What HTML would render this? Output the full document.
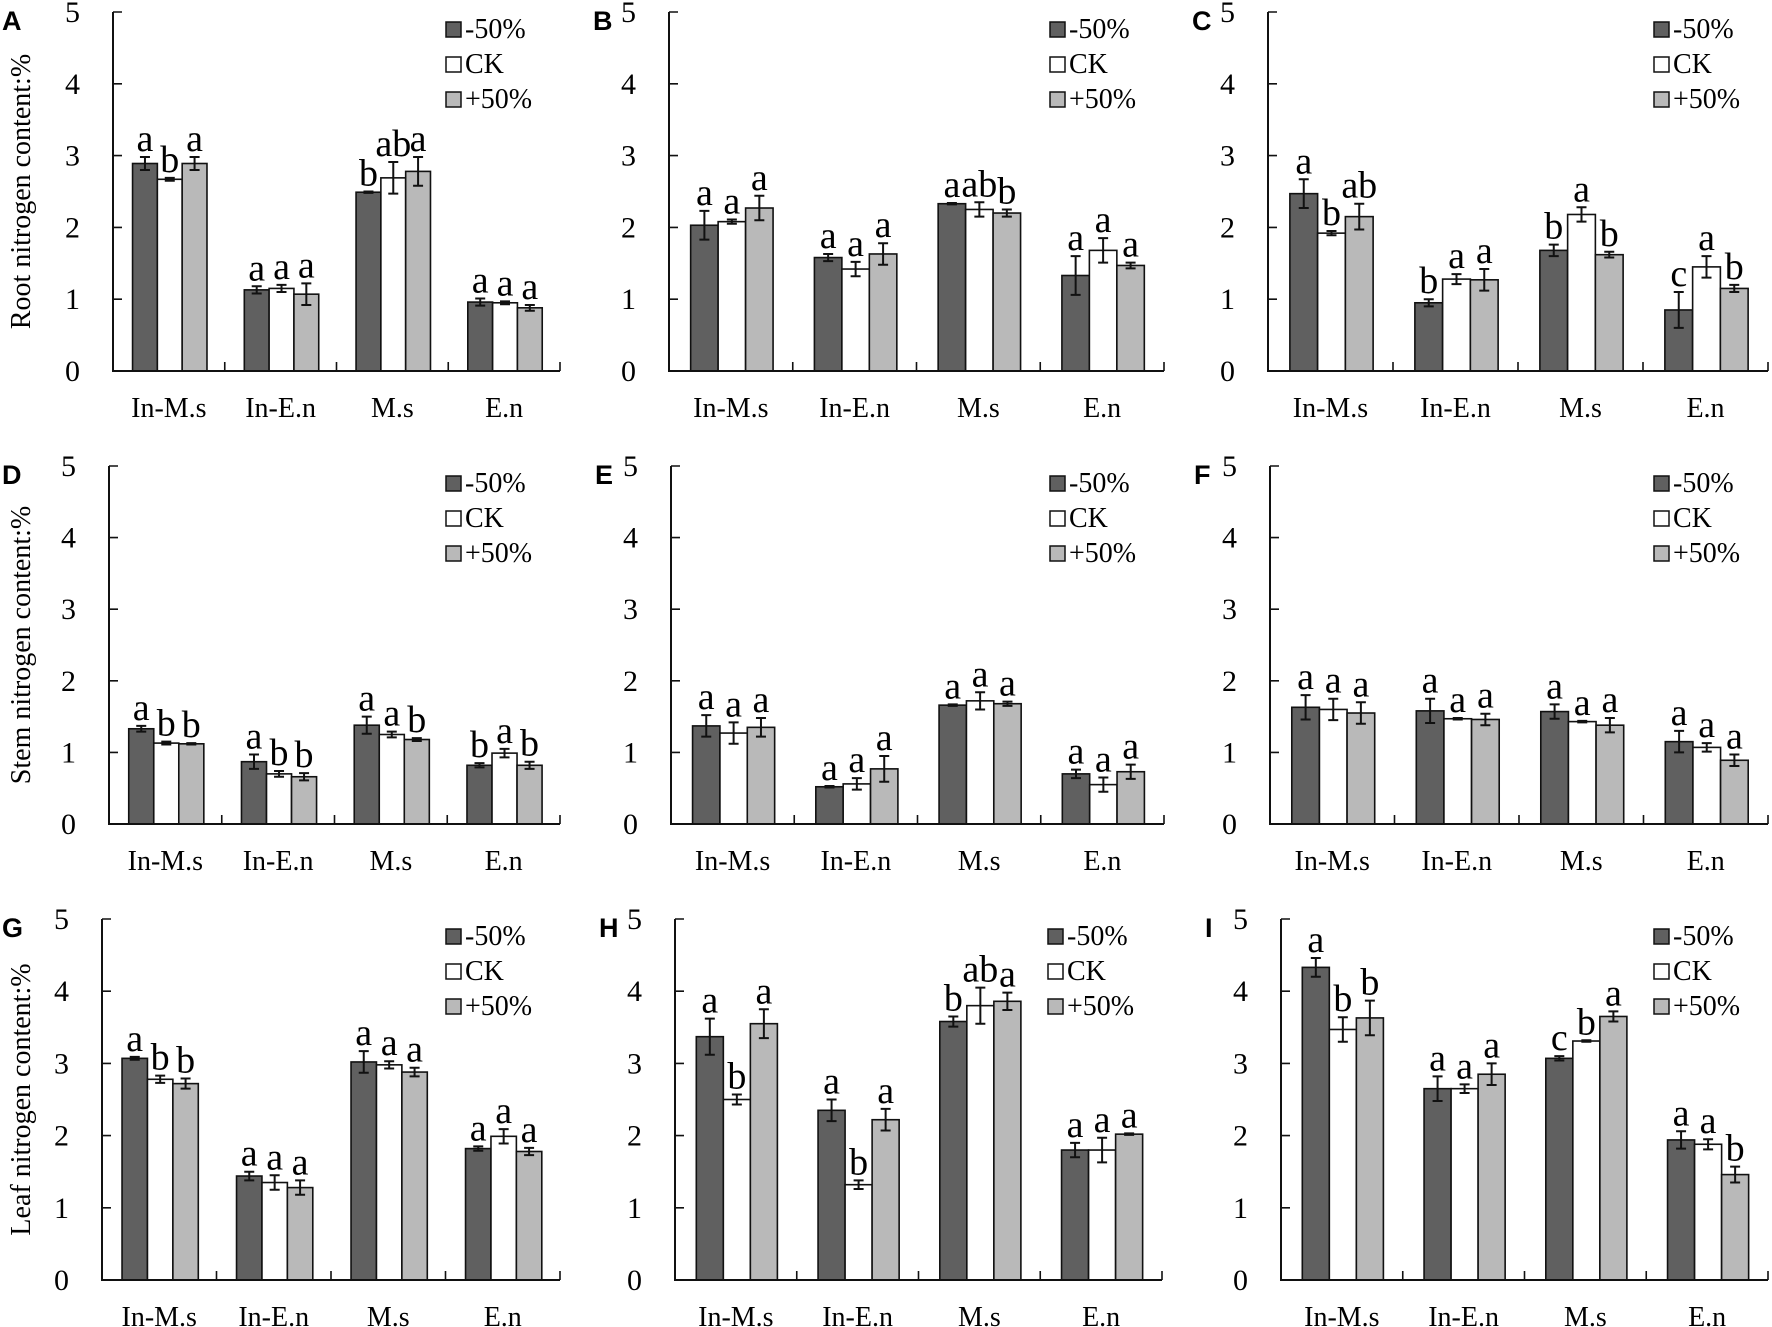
<!DOCTYPE html>
<html><head><meta charset="utf-8"><style>
html,body{margin:0;padding:0;background:#fff;}
svg{display:block;font-family:"Liberation Serif",serif;}
</style></head><body>
<svg id="chart" width="1772" height="1327" viewBox="0 0 1772 1327"></svg>
<script>
const categories = ["In-M.s","In-E.n","M.s","E.n"];
const seriesNames = ["-50%","CK","+50%"];
const yTicks = [0,1,2,3,4,5];
const valuesA = [[2.89,2.67,2.89],[1.13,1.15,1.07],[2.49,2.69,2.78],[0.96,0.95,0.88]];
const errorsA = [[0.09,0.02,0.09],[0.05,0.05,0.15],[0.01,0.22,0.2],[0.05,0.02,0.04]];
const lettersA = [["a","b","a"],["a","a","a"],["b","ab","a"],["a","a","a"]];
const valuesB = [[2.03,2.08,2.27],[1.58,1.42,1.63],[2.33,2.25,2.2],[1.33,1.68,1.47]];
const errorsB = [[0.2,0.03,0.17],[0.05,0.1,0.15],[0.01,0.1,0.05],[0.27,0.17,0.04]];
const lettersB = [["a","a","a"],["a","a","a"],["a","ab","b"],["a","a","a"]];
const valuesC = [[2.47,1.92,2.15],[0.95,1.28,1.27],[1.68,2.18,1.62],[0.85,1.45,1.15]];
const errorsC = [[0.2,0.03,0.18],[0.05,0.07,0.15],[0.08,0.1,0.04],[0.25,0.15,0.05]];
const lettersC = [["a","b","ab"],["b","a","a"],["b","a","b"],["c","a","b"]];
const valuesD = [[1.33,1.13,1.12],[0.87,0.7,0.66],[1.38,1.25,1.18],[0.82,0.99,0.82]];
const errorsD = [[0.04,0.02,0.01],[0.1,0.04,0.05],[0.12,0.04,0.02],[0.03,0.06,0.05]];
const lettersD = [["a","b","b"],["a","b","b"],["a","a","b"],["b","a","b"]];
const valuesE = [[1.37,1.27,1.35],[0.52,0.56,0.77],[1.66,1.72,1.68],[0.7,0.55,0.73]];
const errorsE = [[0.15,0.15,0.13],[0.01,0.08,0.18],[0.01,0.12,0.03],[0.06,0.1,0.1]];
const lettersE = [["a","a","a"],["a","a","a"],["a","a","a"],["a","a","a"]];
const valuesF = [[1.63,1.6,1.55],[1.58,1.47,1.46],[1.57,1.43,1.38],[1.15,1.07,0.89]];
const errorsF = [[0.17,0.15,0.15],[0.17,0.01,0.08],[0.1,0.01,0.1],[0.15,0.06,0.08]];
const lettersF = [["a","a","a"],["a","a","a"],["a","a","a"],["a","a","a"]];
const valuesG = [[3.07,2.78,2.72],[1.44,1.35,1.28],[3.02,2.98,2.88],[1.82,1.99,1.78]];
const errorsG = [[0.02,0.05,0.07],[0.06,0.1,0.1],[0.15,0.05,0.06],[0.03,0.1,0.05]];
const lettersG = [["a","b","b"],["a","a","a"],["a","a","a"],["a","a","a"]];
const valuesH = [[3.37,2.5,3.55],[2.35,1.32,2.22],[3.58,3.8,3.86],[1.8,1.8,2.02]];
const errorsH = [[0.25,0.07,0.2],[0.15,0.06,0.15],[0.07,0.25,0.12],[0.1,0.17,0.01]];
const lettersH = [["a","b","a"],["a","b","a"],["b","ab","a"],["a","a","a"]];
const valuesI = [[4.33,3.47,3.63],[2.65,2.65,2.85],[3.07,3.31,3.65],[1.94,1.88,1.46]];
const errorsI = [[0.13,0.17,0.24],[0.17,0.06,0.15],[0.03,0.01,0.07],[0.12,0.07,0.11]];
const lettersI = [["a","b","b"],["a","a","a"],["c","b","a"],["a","a","b"]];

const fills = ["#606060","#ffffff","#b9b9b9"];
const NS = "http://www.w3.org/2000/svg";
const svg = document.getElementById("chart");
function mk(tag, attrs, parent, text){
  const e = document.createElementNS(NS, tag);
  for (const k in attrs) e.setAttribute(k, attrs[k]);
  if (text !== undefined) e.textContent = text;
  (parent||svg).appendChild(e);
  return e;
}
const panels = [
  {id:"A",x0:113,x1:560,top:12,zero:371,v:valuesA,e:errorsA,l:lettersA,title:"Root nitrogen content:%"},
  {id:"B",x0:669,x1:1164,top:12,zero:371,v:valuesB,e:errorsB,l:lettersB},
  {id:"C",x0:1268,x1:1768,top:12,zero:371,v:valuesC,e:errorsC,l:lettersC},
  {id:"D",x0:109,x1:560,top:466,zero:824,v:valuesD,e:errorsD,l:lettersD,title:"Stem nitrogen content:%"},
  {id:"E",x0:671,x1:1164,top:466,zero:824,v:valuesE,e:errorsE,l:lettersE},
  {id:"F",x0:1270,x1:1768,top:466,zero:824,v:valuesF,e:errorsF,l:lettersF},
  {id:"G",x0:102,x1:560,top:919,zero:1280,v:valuesG,e:errorsG,l:lettersG,title:"Leaf nitrogen content:%"},
  {id:"H",x0:675,x1:1162,top:919,zero:1280,v:valuesH,e:errorsH,l:lettersH},
  {id:"I",x0:1281,x1:1768,top:919,zero:1280,v:valuesI,e:errorsI,l:lettersI}
];
panels.forEach(p=>{
  const g = mk("g",{});
  
  
  const y = v => p.zero - (v/5)*(p.zero-p.top);
  const catW = (p.x1-p.x0)/categories.length;
  const bw = catW*0.222, off = catW*0.175;
  const xBar = (c,s) => p.x0 + c*catW + off + s*bw;
  const pl = mk("text",{x:(p.id==="A"||p.id==="D"||p.id==="G")?2:p.x0-76,y:p.top+18,"font-family":"Liberation Sans, sans-serif","font-weight":"bold","font-size":"27"},g,p.id);
  
  
  if (p.title){
    const cy=(p.top+p.zero)/2;
    const t = mk("text",{x:30,y:cy,"font-size":"28","text-anchor":"middle",transform:`rotate(-90 30 ${cy})`},g,p.title);
    
    
  }
  categories.forEach((cat,c)=>{
    seriesNames.forEach((sn,s)=>{
      const v=p.v[c][s], er=p.e[c][s];
      const x=xBar(c,s);
      const r = mk("rect",{x:x,y:y(v),width:bw,height:p.zero-y(v),fill:fills[s],stroke:"#111","stroke-width":"1.6"},g);
      
      
      const cx=x+bw/2, yt=y(v+er), yb=y(v-er);
      const eb = mk("path",{d:`M${cx},${yt}V${yb}M${cx-5},${yt}H${cx+5}M${cx-5},${yb}H${cx+5}`,stroke:"#111","stroke-width":"2",fill:"none"},g);
      
      
      const lt = mk("text",{x:cx,y:yt-6,"font-size":"38","text-anchor":"middle"},g,p.l[c][s]);
      
      
    });
    const cl = mk("text",{x:p.x0+(c+0.5)*catW,y:p.zero+46,"font-size":"28","text-anchor":"middle"},g,cat);
    
    
  });
  const ax = mk("path",{d:`M${p.x0},${p.top}V${p.zero}H${p.x1}`,stroke:"#111","stroke-width":"2",fill:"none"},g);
  
  
  let td="";
  yTicks.forEach(t=>{ td+=`M${p.x0},${y(t)}H${p.x0+9}`; });
  for(let c=1;c<=categories.length;c++){ const xx=p.x0+c*catW; td+=`M${xx},${p.zero}V${p.zero-9}`; }
  const tk = mk("path",{d:td,stroke:"#111","stroke-width":"1.6",fill:"none"},g);
  
  
  yTicks.forEach(t=>{
    const tl = mk("text",{x:p.x0-33,y:y(t)+10,"font-size":"30","text-anchor":"end"},g,String(t));
    
    
  });
  seriesNames.forEach((sn,s)=>{
    const ly=p.top+10+s*35;
    const lg = mk("g",{},g);
    
    
    mk("rect",{x:p.x1-114,y:ly,width:15,height:15,fill:fills[s],stroke:"#111","stroke-width":"1.5"},lg);
    mk("text",{x:p.x1-95,y:ly+16,"font-size":"28"},lg,sn);
  });
});
</script>
</body></html>
